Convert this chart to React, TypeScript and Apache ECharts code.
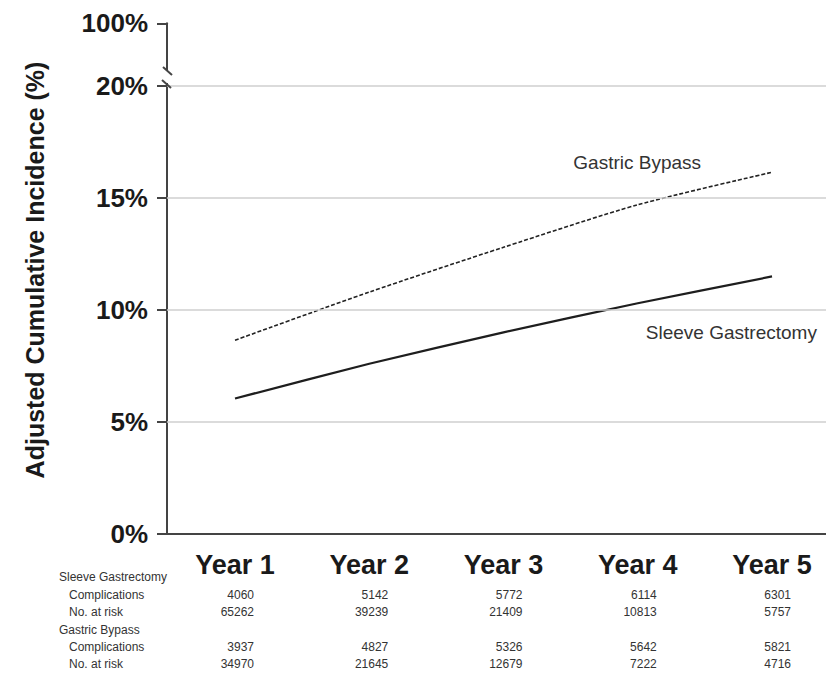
import React, { useEffect, useRef } from "react";
import * as echarts from "echarts";

// Follow-up years and the value used for the break-top "100%" position
const years = [1, 2, 3, 4, 5];
const yearLabels = ["Year 1", "Year 2", "Year 3", "Year 4", "Year 5"];

// Adjusted cumulative incidence (%)
const sleeveIncidence = [6.05, 7.6, 9.0, 10.3, 11.5];
const bypassIncidence = [8.65, 10.8, 12.8, 14.7, 16.15];

// y-axis ticks below the break, and the top tick placed above it
const yTicks = [0, 5, 10, 15, 20];
const yTopValue = 22.8;
const yTopLabel = "100%";
const yTitle = "Adjusted Cumulative Incidence (%)";

// Numbers under the x axis
const sleeveComplications = [4060, 5142, 5772, 6114, 6301];
const sleeveAtRisk = [65262, 39239, 21409, 10813, 5757];
const bypassComplications = [3937, 4827, 5326, 5642, 5821];
const bypassAtRisk = [34970, 21645, 12679, 7222, 4716];

const FONT = '"Liberation Sans", Arial, Helvetica, sans-serif';
const INK = "#1a1a1a";

export default function App() {
  const ref = useRef<HTMLDivElement>(null);

  useEffect(() => {
    if (!ref.current) return;
    const chart = echarts.init(ref.current, null, { renderer: "svg" });

    const yLabelValues = [...yTicks, yTopValue];

    chart.setOption({
      animation: false,
      backgroundColor: "#ffffff",
      grid: { left: 167, right: 0, top: 23.3, bottom: 145, containLabel: false },
      xAxis: {
        type: "value",
        min: 0.4935,
        max: 5.402,
        axisLine: { show: true, lineStyle: { color: "#444", width: 2 } },
        axisTick: { show: false },
        splitLine: { show: false },
        axisLabel: {
          customValues: years,
          formatter: (v: number) => yearLabels[years.indexOf(v)] ?? "",
          fontFamily: FONT,
          fontWeight: "bold",
          fontSize: 27,
          color: INK,
          margin: 17,
        },
      },
      yAxis: {
        type: "value",
        min: 0,
        max: yTopValue,
        axisLine: { show: true, lineStyle: { color: "#444", width: 2 } },
        axisTick: {
          show: true,
          customValues: yLabelValues,
          length: 10,
          lineStyle: { color: "#444", width: 2 },
        },
        splitLine: { show: false },
        axisLabel: {
          customValues: yLabelValues,
          formatter: (v: number) => (v > 20 ? yTopLabel : `${v}%`),
          fontFamily: FONT,
          fontWeight: "bold",
          fontSize: 26,
          color: INK,
          margin: 19,
        },
      },
      series: [
        {
          name: "Gridlines",
          type: "line",
          data: [],
          silent: true,
          markLine: {
            silent: true,
            symbol: "none",
            label: { show: false },
            lineStyle: { color: "#cfcfcf", width: 1.5, type: "solid" },
            data: yTicks.filter((t) => t > 0).map((t) => ({ yAxis: t })),
          },
        },
        {
          name: "Gastric Bypass",
          type: "line",
          smooth: 0.25,
          showSymbol: false,
          data: years.map((y, i) => [y, bypassIncidence[i]]),
          lineStyle: { color: "#222", width: 1.6, type: [4, 2] },
        },
        {
          name: "Sleeve Gastrectomy",
          type: "line",
          smooth: 0.25,
          showSymbol: false,
          data: years.map((y, i) => [y, sleeveIncidence[i]]),
          lineStyle: { color: "#1e1e1e", width: 2.2, type: "solid" },
        },
      ],
    });

    const px = (x: number, y: number) =>
      chart.convertToPixel({ gridIndex: 0 }, [x, y]) as number[];

    const graphics: any[] = [];

    // Rotated y-axis title
    graphics.push({
      type: "text",
      x: 35,
      y: 270,
      rotation: Math.PI / 2,
      style: {
        text: yTitle,
        font: `bold 25px ${FONT}`,
        fill: INK,
        textAlign: "center",
        textVerticalAlign: "middle",
      },
    });

    // Axis break marks between 20% and 100%
    const [axisX, y20] = px(0.4935, 20);
    graphics.push({
      type: "rect",
      shape: { x: axisX - 4, y: y20 - 16, width: 8, height: 13 },
      style: { fill: "#ffffff" },
      z: 100,
    });
    graphics.push({
      type: "line",
      shape: { x1: axisX - 4, y1: y20 - 19, x2: axisX + 5, y2: y20 - 11 },
      style: { stroke: "#444", lineWidth: 2 },
      z: 101,
    });
    graphics.push({
      type: "line",
      shape: { x1: axisX - 5, y1: y20 - 6, x2: axisX + 4, y2: y20 + 2 },
      style: { stroke: "#444", lineWidth: 2 },
      z: 101,
    });

    // Series labels on the plot
    const [gbx, gby] = px(3.52, 16.6);
    graphics.push({
      type: "text",
      x: gbx,
      y: gby,
      style: {
        text: "Gastric Bypass",
        font: `19px ${FONT}`,
        fill: "#333",
        textAlign: "left",
        textVerticalAlign: "middle",
      },
    });
    const [sgx, sgy] = px(4.06, 9.0);
    graphics.push({
      type: "text",
      x: sgx,
      y: sgy,
      style: {
        text: "Sleeve Gastrectomy",
        font: `19px ${FONT}`,
        fill: "#333",
        textAlign: "left",
        textVerticalAlign: "middle",
      },
    });

    // Table of counts under the x axis
    const rowY = [577, 595, 612, 630, 647, 664];
    const rowHeads = [
      { text: "Sleeve Gastrectomy", x: 59 },
      { text: "Complications", x: 69 },
      { text: "No. at risk", x: 69 },
      { text: "Gastric Bypass", x: 59 },
      { text: "Complications", x: 69 },
      { text: "No. at risk", x: 69 },
    ];
    rowHeads.forEach((h, i) => {
      graphics.push({
        type: "text",
        x: h.x,
        y: rowY[i],
        style: {
          text: h.text,
          font: `12px ${FONT}`,
          fill: "#333",
          textAlign: "left",
          textVerticalAlign: "middle",
        },
      });
    });
    const rows: [number, number[]][] = [
      [1, sleeveComplications],
      [2, sleeveAtRisk],
      [4, bypassComplications],
      [5, bypassAtRisk],
    ];
    rows.forEach(([ri, vals]) => {
      vals.forEach((v, i) => {
        const [cx] = px(years[i], 0);
        graphics.push({
          type: "text",
          x: cx + 19,
          y: rowY[ri],
          style: {
            text: String(v),
            font: `12px ${FONT}`,
            fill: "#333",
            textAlign: "right",
            textVerticalAlign: "middle",
          },
        });
      });
    });

    chart.setOption({ graphic: graphics });

    return () => chart.dispose();
  }, []);

  return (
    <div
      ref={ref}
      style={{
        position: "absolute",
        left: 0,
        top: 0,
        width: 826,
        height: 679,
        background: "#ffffff",
      }}
    />
  );
}
